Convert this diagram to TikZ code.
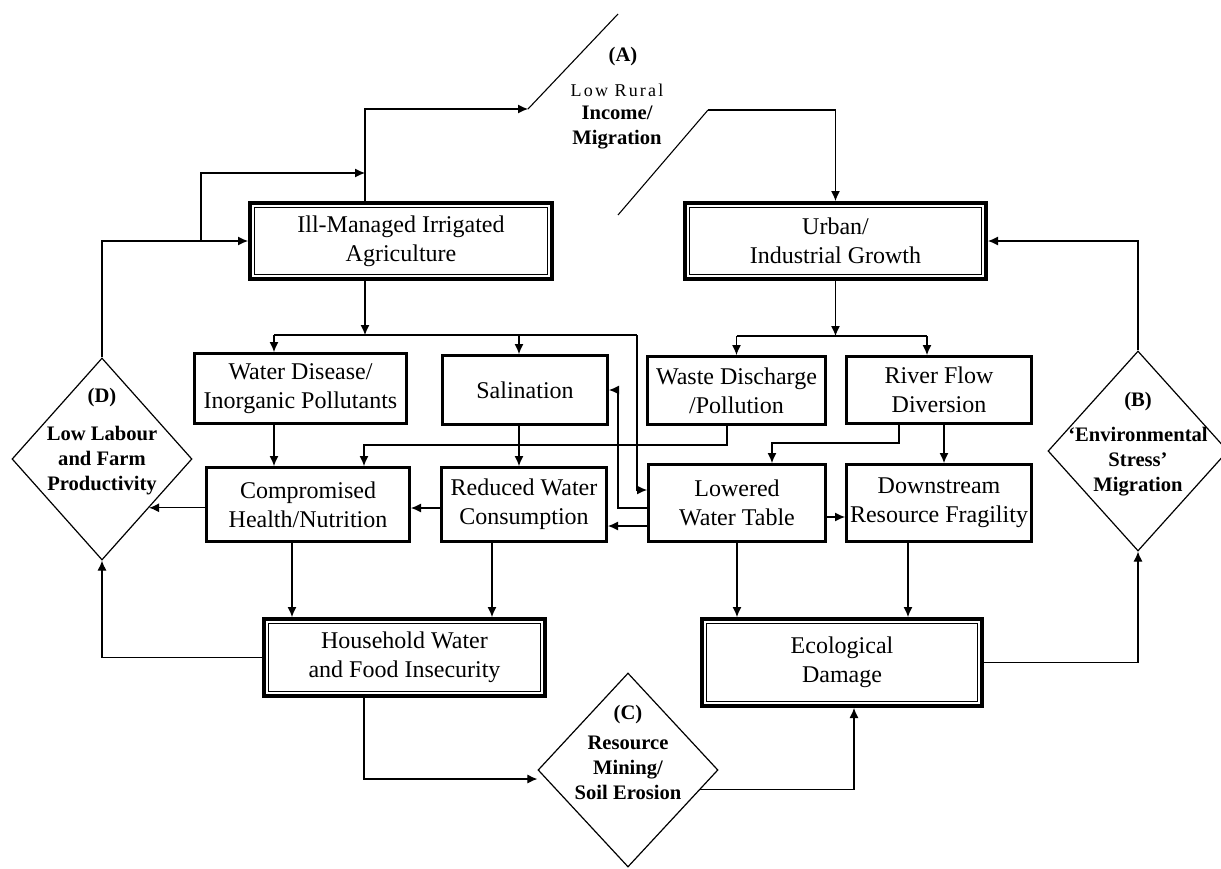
\documentclass[tikz,border=0pt]{standalone}
\usepackage{fontspec}
\setmainfont{Liberation Serif}
\usetikzlibrary{shapes.geometric,arrows.meta,calc}
\begin{document}
\begin{tikzpicture}[x=0.5pt,y=-0.5pt,
  every node/.style={inner sep=0pt},
  box/.style={draw, line width=1.35pt, align=center, font=\fontsize{12}{14.5}\selectfont},
  dbox/.style={draw, line width=2.2pt, align=center, font=\fontsize{12}{14.5}\selectfont},
  dia/.style={draw, diamond, line width=0.6pt, inner sep=0pt},
  lbl/.style={align=center, font=\bfseries\fontsize{10.3}{12.5}\selectfont},
  conn/.style={line width=0.55pt},
  arr/.style={conn, -{Latex[length=5pt,width=4.5pt]}},
]
\useasboundingbox (0,0) rectangle (1221,868);

% main boxes
\node[dbox, minimum width=150.8pt, minimum height=37.8pt] (ima) at (401,241) {Ill-Managed Irrigated\\Agriculture};
\node[dbox, minimum width=150.3pt, minimum height=37.8pt] (urb) at (835.5,241) {Urban/\\Industrial Growth};
\node[box, minimum width=106.15pt, minimum height=35.15pt] (wd) at (300.5,388.5) {Water Disease/\\Inorganic Pollutants};
\node[box, minimum width=82.65pt, minimum height=34.65pt] (sal) at (525,390) {Salination};
\node[box, minimum width=89.15pt, minimum height=34.15pt] (wdp) at (736.5,390.5) {Waste Discharge\\/Pollution};
\node[box, minimum width=92.65pt, minimum height=33.65pt] (rfd) at (939,390) {River Flow\\Diversion};
\node[box, minimum width=101.65pt, minimum height=37.15pt] (chn) at (308,504.5) {Compromised\\Health/Nutrition};
\node[box, minimum width=82.65pt, minimum height=37.15pt] (rwc) at (524,504.5) {Reduced Water\\Consumption};
\node[box, minimum width=88.65pt, minimum height=38.65pt] (lwt) at (737,503) {Lowered\\Water Table};
\node[box, minimum width=92.65pt, minimum height=38.65pt] (drf) at (939,503) {Downstream\\Resource Fragility};
\node[dbox, minimum width=140.3pt, minimum height=38.3pt] (hh) at (404.5,657.5) {Household Water\\and Food Insecurity};
\node[dbox, minimum width=139.8pt, minimum height=43.3pt] (eco) at (842,662.5) {Ecological\\Damage};
\foreach \nm in {ima,urb,hh,eco}
  \draw[line width=0.6pt] ([shift={(3.4pt,-3.4pt)}]\nm.north west) rectangle ([shift={(-3.4pt,3.4pt)}]\nm.south east);

% diamonds
\node[dia, minimum width=90pt, minimum height=101pt] (D) at (102,459) {};
\node[dia, minimum width=90pt, minimum height=100pt] (B) at (1138,451) {};
\node[dia, minimum width=90pt, minimum height=97pt] (C) at (628,770) {};
\node[lbl] (Dh) at (102,398) {(D)};
\node[lbl] (Dt) at (102,461) {Low Labour\\and Farm\\Productivity};
\node[lbl] (Bh) at (1138,402) {(B)};
\node[lbl] (Bt) at (1138,462) {‘Environmental\\Stress’\\Migration};
\node[lbl] (Ch) at (628,715) {(C)};
\node[lbl] (Ct) at (628,768) {Resource\\Mining/\\Soil Erosion};

% (A) label and slashes
\node[lbl] (Ah) at (623,57) {(A)};
\node[font=\fontsize{9}{11}\selectfont\addfontfeature{LetterSpace=12}] (Al) at (617,90) {Low Rural};
\node[lbl] (At) at (617,127.5) {Income/\\Migration};
\coordinate (s1a) at (528,109);
\coordinate (s1b) at (618,14);
\coordinate (s2a) at (618,215);
\coordinate (s2b) at (708,110);
\draw[conn] (s1a) -- (s1b);
\draw[conn] (s2a) -- (s2b);

% top loops
\draw[arr] ($(ima.north)+(-36,0)$) |- (s1a);
\draw[arr] (D.north) |- (ima.west);
\coordinate (brS) at ($(D.north |- ima.west)+(99,0)$);
\draw[arr] (brS) |- ($(ima.north)+(-36,-28)$);
\draw[arr] (s2b) -| (urb.north);
\draw[arr] (B.north) |- (urb.east);
\draw[arr] (eco.east) -| (B.south);
\draw[arr] (hh.west) -| (D.south);

% ill-managed distribution
\coordinate (jL) at ($(ima.south)+(-36,54)$);
\coordinate (hL) at (274,335);
\coordinate (hR) at (637,335);
\coordinate (salN) at ($(sal.north)+(-6,0)$);
\draw[arr] ($(ima.south)+(-36,0)$) -- (jL);
\draw[conn] (hL) -- (hR);
\draw[arr] (hL) -- (hL |- wd.north);
\draw[arr] (salN |- hL) -- (salN);
\draw[arr] (hR) |- ($(lwt.west)+(0,-13)$);

% urban distribution
\coordinate (jR) at ($(urb.south)+(0,55)$);
\coordinate (rfdN) at ($(rfd.north)+(-12,0)$);
\draw[arr] (urb.south) -- (jR);
\draw[conn] (wdp.north |- jR) -- (rfdN |- jR);
\draw[arr] (wdp.north |- jR) -- (wdp.north);
\draw[arr] (rfdN |- jR) -- (rfdN);

% middle connections
\coordinate (wdpS) at ($(wdp.south)+(-9.5,0)$);
\coordinate (chnN) at ($(chn.north)+(56,0)$);
\draw[arr] (wdpS) -- ++(0,19) -| (chnN);
\coordinate (rfdS) at ($(rfd.south)+(-40,0)$);
\coordinate (lwtN) at ($(lwt.north)+(35,0)$);
\draw[arr] (rfdS) -- ++(0,18) -| (lwtN);
\draw[arr] ($(rfd.south)+(5,0)$) -- ($(drf.north)+(5,0)$);
\draw[arr] (hL |- wd.south) -- (hL |- chn.north);
\draw[arr] (salN |- sal.south) -- (salN |- rwc.north);
\draw[arr] ($(rwc.west)+(0,3.5)$) -- ($(chn.east)+(0,3.5)$);
\coordinate (lr) at ($(lwt.west)+(0,23)$);
\draw[arr] (lr) -- (lr -| rwc.east);
\coordinate (lsA) at ($(lwt.west)+(0,5)$);
\draw[arr] (lsA) -| ($(sal.east)+(9,0)$) -- (sal.east);
\draw[arr] ($(lwt.east)+(0,14)$) -- ($(drf.west)+(0,14)$);
\coordinate (Dp) at ($(D.east)!0.48!(D.south)$);
\draw[arr] (chn.west |- Dp) -- (Dp);

% lower connections
\coordinate (c1) at ($(chn.south)+(-16,0)$);
\coordinate (c2) at ($(rwc.south)+(-32,0)$);
\coordinate (c3) at ($(drf.south)+(-31,0)$);
\draw[arr] (c1) -- (c1 |- hh.north);
\draw[arr] (c2) -- (c2 |- hh.north);
\draw[arr] (lwt.south) -- (lwt.south |- eco.north);
\draw[arr] (c3) -- (c3 |- eco.north);
\coordinate (c4) at ($(hh.south)+(-40.5,0)$);
\coordinate (Cin) at ($(C.west)+(0,9)$);
\draw[arr] (c4) |- (Cin);
\coordinate (Cout) at ($(C.east)!0.2!(C.south)$);
\draw[arr] (Cout) -| ($(eco.south)+(12,0)$);
\end{tikzpicture}
\end{document}
